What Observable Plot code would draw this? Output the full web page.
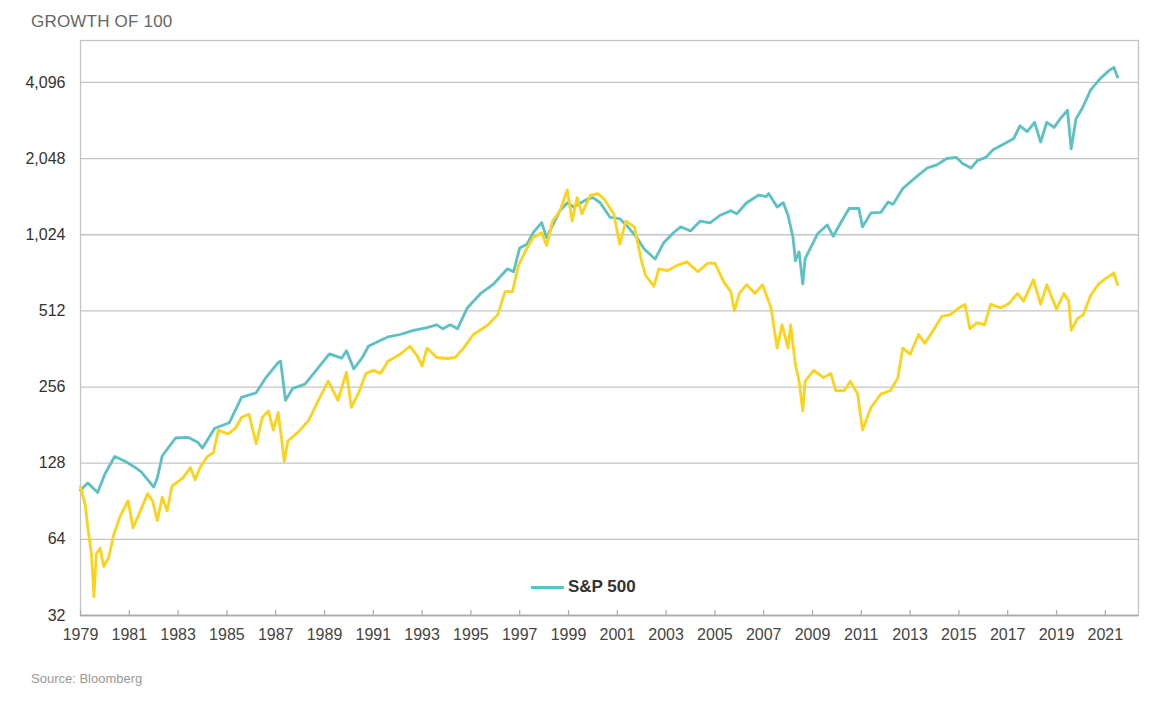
<!DOCTYPE html>
<html>
<head>
<meta charset="utf-8">
<script src="https://cdn.jsdelivr.net/npm/d3@7"></script>
<script src="https://cdn.jsdelivr.net/npm/@observablehq/plot@0.6"></script>
<style>
  body { margin: 0; background: #fff; font-family: "Liberation Sans", Arial, sans-serif; }
  #wrap { position: relative; width: 1158px; height: 702px; overflow: hidden; }
  #title { position: absolute; left: 31px; top: 12px; font-size: 17px; color: #666; letter-spacing: 0.2px; }
  #chart { position: absolute; left: 0; top: 30px; }
  #legend { position: absolute; left: 531px; top: 577px; display: flex; align-items: center; font-size: 17px; font-weight: bold; color: #333; }
  #legend .sw { width: 33px; height: 3px; background: #5cc1c4; margin-right: 4px; }
  #source { position: absolute; left: 31px; top: 671px; font-size: 13px; color: #999; }
</style>
</head>
<body>
<div id="wrap">
  <div id="title">GROWTH OF 100</div>
  <div id="chart"></div>
  <div id="legend"><div class="sw"></div><span>S&amp;P 500</span></div>
  <div id="source">Source: Bloomberg</div>
</div>
<script>
// ---- Data (x = decimal year) ----
const spYears = [1979.0,1979.3,1979.7,1980.0,1980.4,1980.85,1981.25,1981.5,1982.0,1982.15,1982.35,1982.9,1983.4,1983.8,1984.0,1984.25,1984.5,1985.1,1985.6,1986.2,1986.6,1987.1,1987.2,1987.4,1987.7,1988.2,1988.6,1989.2,1989.7,1989.9,1990.2,1990.55,1990.8,1991.3,1991.6,1992.1,1992.65,1993.2,1993.6,1993.85,1994.15,1994.45,1994.85,1995.4,1995.9,1996.5,1996.75,1997.0,1997.3,1997.55,1997.9,1998.1,1998.65,1998.95,1999.2,1999.8,2000.0,2000.3,2000.7,2001.1,2001.4,2001.8,2002.1,2002.55,2002.9,2003.3,2003.6,2004.0,2004.4,2004.8,2005.2,2005.65,2005.9,2006.3,2006.8,2007.1,2007.2,2007.55,2007.8,2008.0,2008.2,2008.3,2008.45,2008.6,2008.7,2008.9,2009.2,2009.6,2009.85,2010.15,2010.5,2010.9,2011.05,2011.4,2011.8,2012.1,2012.3,2012.7,2013.3,2013.7,2014.1,2014.5,2014.9,2015.15,2015.5,2015.75,2016.1,2016.4,2016.8,2017.25,2017.5,2017.8,2018.1,2018.35,2018.6,2018.9,2019.15,2019.45,2019.6,2019.8,2020.05,2020.4,2020.8,2021.15,2021.35,2021.5];
const spValues = [100,107,98,116,136,130,123,118,103,112,137,161,162,155,147,161,176,185,233,243,279,320,324,227,253,263,293,346,333,356,302,335,371,392,404,413,429,440,451,435,451,435,526,600,650,751,731,908,940,1043,1144,998,1274,1370,1318,1420,1436,1370,1200,1185,1110,998,900,821,952,1043,1100,1060,1160,1140,1220,1274,1240,1370,1470,1450,1490,1318,1370,1220,998,808,876,655,825,900,1030,1120,1010,1140,1300,1300,1100,1250,1255,1380,1350,1560,1750,1880,1935,2050,2070,1960,1880,2010,2070,2220,2330,2460,2760,2620,2850,2380,2850,2720,2940,3180,2240,2940,3230,3830,4250,4560,4700,4300];

const otherYears = [1979.0,1979.2,1979.3,1979.45,1979.55,1979.65,1979.8,1979.95,1980.15,1980.35,1980.6,1980.95,1981.15,1981.5,1981.75,1981.95,1982.15,1982.35,1982.55,1982.75,1983.2,1983.5,1983.7,1983.9,1984.2,1984.45,1984.65,1985.05,1985.35,1985.6,1985.9,1986.2,1986.45,1986.7,1986.9,1987.1,1987.25,1987.35,1987.5,1987.9,1988.35,1988.75,1989.15,1989.35,1989.55,1989.9,1990.1,1990.4,1990.7,1991.0,1991.3,1991.6,1992.1,1992.5,1992.8,1993.0,1993.2,1993.6,1994.0,1994.35,1994.7,1995.1,1995.7,1996.1,1996.4,1996.7,1996.95,1997.3,1997.55,1997.9,1998.1,1998.35,1998.65,1998.95,1999.15,1999.35,1999.55,1999.9,2000.2,2000.45,2000.85,2001.1,2001.35,2001.7,2002.0,2002.15,2002.5,2002.7,2003.05,2003.45,2003.85,2004.3,2004.7,2005.0,2005.35,2005.65,2005.8,2006.0,2006.3,2006.65,2006.95,2007.3,2007.55,2007.75,2008.0,2008.1,2008.3,2008.45,2008.6,2008.7,2009.05,2009.45,2009.75,2009.95,2010.3,2010.55,2010.85,2011.05,2011.4,2011.8,2012.2,2012.5,2012.7,2013.0,2013.35,2013.6,2013.95,2014.3,2014.65,2015.0,2015.25,2015.45,2015.75,2016.05,2016.3,2016.7,2017.05,2017.4,2017.65,2018.05,2018.35,2018.6,2019.0,2019.3,2019.5,2019.6,2019.85,2020.1,2020.4,2020.7,2020.95,2021.35,2021.5];
const otherValues = [103,87,71,56,38,56,59,50,54,66,78,91,71,85,97,91,76,94,83,104,112,123,110,123,136,141,173,167,176,194,200,153,194,206,173,203,157,130,157,169,189,227,270,248,227,293,213,243,290,298,290,324,345,371,340,310,365,335,332,335,365,413,451,495,610,610,775,908,998,1043,928,1160,1274,1540,1160,1436,1240,1470,1490,1420,1240,940,1160,1100,800,710,640,751,738,775,800,731,790,790,670,610,512,600,650,600,650,526,365,451,365,451,314,270,206,270,298,279,290,248,248,270,240,173,213,240,248,279,365,345,413,381,429,487,495,526,543,435,460,451,543,526,548,600,560,680,543,650,520,600,560,429,476,495,590,650,680,724,650];

const yTicks = [32, 64, 128, 256, 512, 1024, 2048, 4096];
const xTicks = d3.range(1979, 2022, 2);

// ---- Build ----
const sp = spYears.map((x, i) => ({x, v: spValues[i]}));
const other = otherYears.map((x, i) => ({x, v: otherValues[i]}));

const chart = Plot.plot({
  width: 1158,
  height: 620,
  marginTop: 10,
  marginBottom: 35,
  marginLeft: 80,
  marginRight: 20,
  style: {fontFamily: "'Liberation Sans', Arial, sans-serif", fontSize: "16px", color: "#444", background: "#fff"},
  x: {type: "linear", domain: [1979, 2022.36], label: null},
  y: {type: "log", base: 2, domain: [32, 6000], label: null},
  marks: [
    Plot.ruleY(yTicks, {stroke: "#c4c4c4", strokeWidth: 1.3}),
    Plot.frame({stroke: "#c4c4c4", strokeWidth: 1.3}),
    Plot.ruleY([32], {stroke: "#aaa", strokeWidth: 1.5}),
    Plot.ruleX(xTicks, {stroke: "#aaa", strokeWidth: 1.2, insetTop: 570}),
    Plot.line(sp, {x: "x", y: "v", stroke: "#5cc1c4", strokeWidth: 2.8, curve: "linear"}),
    Plot.line(other, {x: "x", y: "v", stroke: "#fcd21a", strokeWidth: 2.8, curve: "linear"}),
    Plot.axisY({ticks: yTicks, tickSize: 0, tickPadding: 15, tickFormat: d3.format(","), fill: "#333", label: null}),
    Plot.axisX({ticks: xTicks, tickSize: 0, tickPadding: 13, tickFormat: d => String(d), fill: "#444", label: null})
  ]
});
document.getElementById("chart").appendChild(chart);
</script>
</body>
</html>
